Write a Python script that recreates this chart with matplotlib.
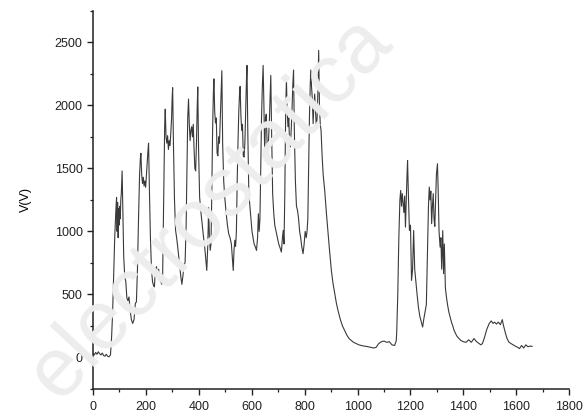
import matplotlib
matplotlib.use("Agg")
import matplotlib.pyplot as plt
from matplotlib.ticker import MultipleLocator

# time (s) and voltage (V) of the measured trace
t = [0, 5, 10, 15, 20, 25, 30, 35, 40, 45, 50, 55, 60, 64,
     66, 70, 74, 78, 82, 86, 89, 91, 93, 95, 97, 99, 101, 103, 105, 107, 110, 113, 116, 120,
     124, 128, 132, 136, 140, 145, 150, 155, 160, 164, 168,
     172, 176, 179, 181, 184, 187, 190, 193, 196, 199, 202, 205, 208, 210, 213, 217, 221, 225,
     229, 232, 236, 240, 244, 248, 252, 256, 260, 263,
     266, 269, 271, 273, 276, 279, 282, 285, 288, 291, 294, 297, 299, 301, 304, 308, 312, 316,
     320, 324, 328, 332, 336, 340, 344,
     348, 352, 355, 358, 361, 364, 367, 370, 373, 376, 379, 382, 385, 388, 391, 394, 396, 399,
     403, 408, 413, 418, 422, 426, 430, 434, 437, 440, 443,
     446, 449, 452, 455, 457, 460, 463, 466, 469, 472, 475, 478, 481, 484, 487, 490, 494, 498,
     503, 508, 513, 518, 523, 527, 530, 533, 536, 539,
     542, 545, 548, 551, 554, 556, 559, 562, 565, 568, 571, 574, 577, 580, 582, 585, 589, 593,
     597, 601, 605, 609, 613, 618, 622, 625, 628,
     631, 634, 637, 640, 643, 646, 649, 652, 655, 658, 661, 664, 667, 670, 672, 675, 679, 683,
     687, 692, 697, 702, 707, 712, 716, 719, 722,
     725, 728, 731, 734, 737, 740, 743, 746, 749, 752, 755, 758, 761, 765, 769, 773, 777, 781,
     785, 789, 794, 798, 802, 806, 809,
     812, 815, 818, 821, 823, 826, 829, 832, 835, 838, 841, 844, 847, 850, 853, 856, 859, 862,
     866, 870, 876, 882, 888, 894, 901, 907, 914, 920, 926, 935, 943, 951, 960, 968, 976, 985,
     995, 1005, 1014, 1025, 1040, 1060, 1070, 1080, 1090, 1100, 1110, 1120, 1130, 1140, 1146,
     1148, 1152, 1156, 1160, 1163, 1166, 1169, 1172, 1175, 1178, 1181, 1184, 1187, 1189, 1192,
     1196, 1200, 1204, 1208, 1212, 1216, 1220, 1225, 1230, 1235, 1240, 1246, 1250, 1256,
     1260, 1264, 1268, 1271, 1274, 1277, 1280, 1283, 1286, 1289, 1292, 1295, 1298, 1302, 1305,
     1308, 1312, 1315, 1318, 1322, 1325, 1328, 1332, 1336, 1340, 1345, 1350, 1355, 1360, 1365,
     1375, 1390, 1400, 1410, 1420, 1430, 1440, 1450, 1460, 1466, 1472, 1480, 1488, 1497, 1505,
     1512, 1518, 1525, 1532, 1540, 1547, 1552, 1558, 1565, 1572, 1580, 1588, 1596, 1604, 1612,
     1620, 1628, 1636, 1644, 1652, 1660]
v = [30, 20, 40, 25, 45, 30, 20, 35, 15, 10, 25, 10, 5, 15,
     20, 150, 350, 650, 950, 1150, 1270, 1000, 1230, 950, 1180, 1050, 1200, 1100, 1250, 1300, 1480, 1150, 800, 640,
     600, 470, 450, 480, 380, 300, 270, 300, 430, 440, 700,
     1100, 1450, 1580, 1620, 1450, 1380, 1430, 1360, 1400, 1350, 1450, 1550, 1650, 1700, 1350, 950, 700, 600,
     570, 560, 700, 720, 640, 700, 620, 600, 580, 620,
     1100, 1600, 1850, 1970, 1750, 1700, 1760, 1650, 1720, 1680, 1780, 1900, 2050, 2140, 1700, 1250, 1010, 950,
     880, 800, 720, 640, 580, 650, 740,
     750, 1050, 1500, 1900, 2050, 1850, 1720, 1800, 1830, 1750, 1850, 1650, 1500, 1480, 1700, 2000, 2146, 1650,
     1270, 1150, 1050, 950, 880, 780, 690, 900, 1190, 950, 850,
     900, 1300, 1800, 2100, 2210, 1950, 1860, 1900, 1620, 1600, 1750, 1700, 1900, 2100, 2275, 1700, 1400, 1270,
     1150, 1050, 980, 950, 900, 780, 690, 850, 930, 880,
     1000, 1400, 1700, 1950, 2100, 2150, 1920, 1800, 1850, 1600, 1590, 1700, 1950, 2200, 2317, 1800, 1300, 1200,
     1100, 1000, 950, 900, 880, 849, 950, 1140, 1000,
     1100, 1500, 1900, 2150, 2317, 2000, 1616, 1900, 1930, 1700, 1600, 1750, 1900, 2100, 2238, 1800, 1300, 1150,
     1050, 1000, 950, 900, 870, 836, 950, 1008, 900,
     1300, 1900, 2211, 1950, 1830, 1900, 1700, 1670, 1800, 1950, 2150, 2280, 1800, 1400, 1200, 1167, 1100, 1000,
     950, 880, 823, 900, 1000, 950, 1000,
     1100, 1500, 1900, 2150, 2280, 2150, 2050, 1854, 2000, 2090, 1950, 1828, 1900, 2100, 2436, 2000, 1850, 1800,
     1600, 1450, 1320, 1150, 1000, 850, 690, 590, 505, 430, 373, 300, 250, 214, 175, 150, 135, 120,
     110, 100, 95, 90, 85, 75, 80, 110, 125, 130, 120, 125, 100, 95, 130,
     200, 500, 950, 1250, 1325, 1200, 1300, 1220, 1150, 1280, 1034, 1250, 1450, 1563, 1300,
     1007, 1050, 611, 700, 1007, 700, 611, 500, 400, 330, 290, 241, 300, 373,
     420, 800, 1200, 1352, 1250, 1320, 1061, 1200, 1300, 1100, 1040, 1250, 1450, 1537, 1300,
     1000, 875, 950, 700, 1007, 664, 900, 550, 479, 420, 360, 320, 280, 250, 214,
     170, 135, 125, 120, 140, 120, 150, 125, 110, 100, 110, 160, 220, 267, 290,
     270, 280, 265, 280, 260, 300, 250, 200, 150, 122, 110, 100, 90, 82, 70,
     95, 75, 100, 85, 90, 88]

plt.rcParams['font.family'] = ['Liberation Sans', 'DejaVu Sans']

fig = plt.figure(figsize=(5.85, 4.16), dpi=100)
ax = fig.add_axes([0.159, 0.065, 0.814, 0.909])

# faint site watermark behind the trace
fig.text(0.36, 0.50, "electrostatica", fontsize=60, color='#ededed',
         rotation=47, ha='center', va='center', zorder=0)

ax.plot(t, v, color='#3a3a3a', lw=0.8)
ax.patch.set_alpha(0)

ax.set_xlim(0, 1800)
ax.set_ylim(-250, 2750)
ax.xaxis.set_major_locator(MultipleLocator(200))
ax.xaxis.set_minor_locator(MultipleLocator(100))
ax.yaxis.set_major_locator(MultipleLocator(500))
ax.yaxis.set_minor_locator(MultipleLocator(250))
ax.set_yticks([0, 500, 1000, 1500, 2000, 2500])

for s in ['top', 'right']:
    ax.spines[s].set_visible(False)
for s in ['left', 'bottom']:
    ax.spines[s].set_linewidth(1.1)
    ax.spines[s].set_color('#222222')

ax.tick_params(which='major', length=4, width=1, labelsize=9, colors='#222222')
ax.tick_params(which='minor', length=2.5, width=0.9, colors='#222222')
ax.tick_params(axis='x', pad=5)
ax.set_ylabel("V(V)", fontsize=9, labelpad=16)

fig.savefig("out.png", dpi=100)
